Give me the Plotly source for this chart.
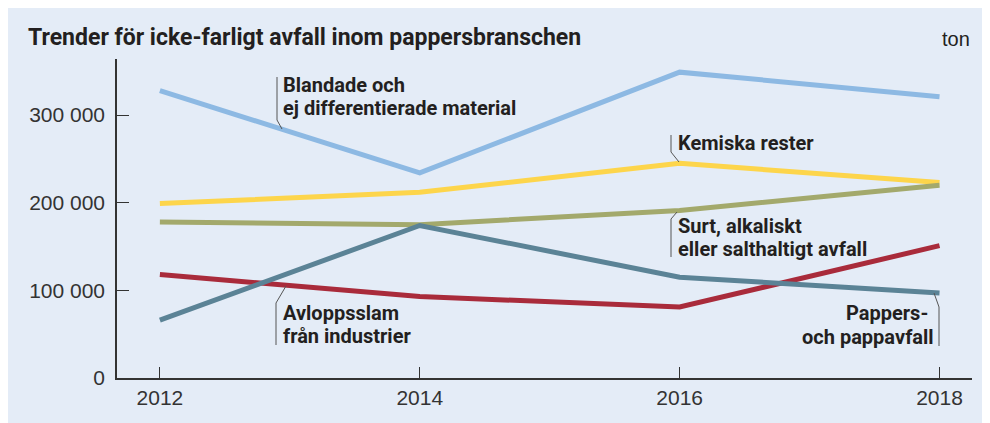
import plotly.graph_objects as go

years = [2012, 2014, 2016, 2018]
blandade = [328000, 234000, 349000, 321000]
kemiska = [199000, 212000, 245000, 223000]
surt = [178000, 175000, 191000, 220000]
pappers = [66000, 174000, 115000, 97000]
avlopp = [118000, 93000, 81000, 151000]

series = [
    ("Blandade och ej differentierade material", blandade, "#8db9e3"),
    ("Kemiska rester", kemiska, "#fdd54b"),
    ("Surt, alkaliskt eller salthaltigt avfall", surt, "#a3a96c"),
    ("Avloppsslam från industrier", avlopp, "#a92b3b"),
    ("Pappers- och pappavfall", pappers, "#5b8396"),
]

ytick_vals = [0, 100000, 200000, 300000]
ytick_text = ["0", "100 000", "200 000", "300 000"]
xtick_vals = years
xtick_text = ["2012", "2014", "2016", "2018"]

W, H = 990, 423
OFF = 8  # page body margin
# plot area in screenshot pixels
X0, X1, Y0, Y1 = 117, 972, 59, 378
L, R, T, B = X0 - OFF, W - (X1 - OFF), Y0 - OFF, H - (Y1 - OFF)
PW, PH = X1 - X0, Y1 - Y0

def px(x):
    return (x - X0) / PW

def py(y):
    return (Y1 - y) / PH

BG = "#e4ecf7"
TXT = "#231f20"
BOLD = "Roboto"
REG = "Liberation Sans"

fig = go.Figure()
for name, vals, col in series:
    fig.add_trace(go.Scatter(x=years, y=vals, mode="lines", name=name,
                             line=dict(color=col, width=5), hoverinfo="x+y"))

shapes = []

def leader(pts):
    path = "M " + " L ".join(f"{px(a)},{py(b)}" for a, b in pts)
    shapes.append(dict(type="path", xref="paper", yref="paper", path=path,
                       line=dict(color="#555555", width=1)))

leader([(277, 77), (277, 120), (282, 129)])
leader([(671, 135), (671, 152), (679, 162)])
leader([(677, 212), (671, 219), (671, 257)])
leader([(286, 286), (276, 303), (276, 345)])
leader([(934, 293), (939, 307), (939, 346)])

annots = []
def text(x, y, s, xanchor="left", size=20, bold=True, font=BOLD):
    annots.append(dict(x=px(x), y=py(y), xref="paper", yref="paper", text=s, showarrow=False,
                       xanchor=xanchor, yanchor="middle",
                       font=dict(family=font, size=size, color=TXT,
                                 weight="bold" if bold else "normal")))

text(26, 38, "Trender för icke-farligt avfall inom pappersbranschen", size=23)
text(972, 39, "ton", xanchor="right", size=20, bold=False, font=REG)
text(281, 85, "Blandade och")
text(281, 108, "ej differentierade material")
text(676, 143, "Kemiska rester")
text(676, 226, "Surt, alkaliskt")
text(676, 249, "eller salthaltigt avfall")
text(281, 313, "Avloppsslam")
text(281, 336, "från industrier")
text(930, 313, "Pappers-", xanchor="right")
text(936, 337, "och pappavfall", xanchor="right")

fig.update_layout(
    width=W, height=H,
    margin=dict(l=L, r=R, t=T, b=B, pad=0),
    paper_bgcolor=BG, plot_bgcolor=BG,
    showlegend=False,
    shapes=shapes, annotations=annots,
    xaxis=dict(range=[2011.67, 2018.25], tickvals=xtick_vals, ticktext=xtick_text,
               showgrid=False, zeroline=False, showline=True, linecolor="#333333", linewidth=1.5,
               ticks="inside", ticklen=11, tickwidth=1.2, tickcolor="#333333",
               tickfont=dict(family=REG, size=21, color="#333333"), ticklabelstandoff=0),
    yaxis=dict(range=[0, 364000], tickvals=ytick_vals, ticktext=ytick_text,
               showgrid=False, zeroline=False, showline=True, linecolor="#333333", linewidth=1.5,
               ticks="inside", ticklen=12, tickwidth=1.2, tickcolor="#333333",
               tickfont=dict(family=REG, size=21, color="#333333"), ticklabelstandoff=6),
)

fig.write_html("out.html")
